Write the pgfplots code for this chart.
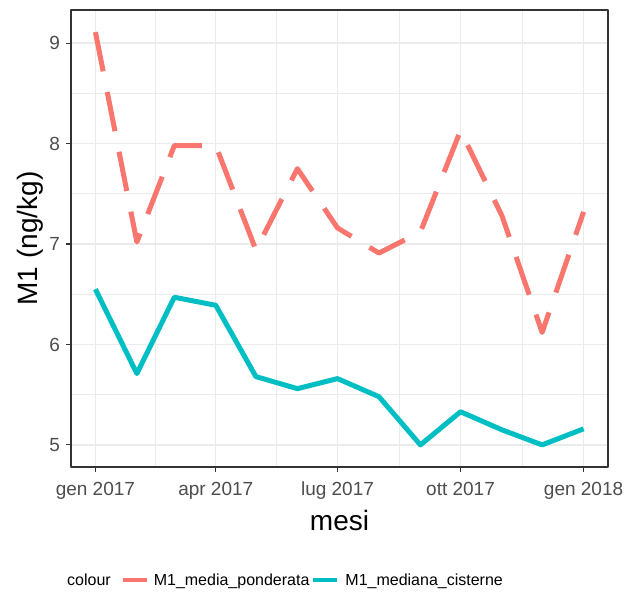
\documentclass[border=0pt]{standalone}
\usepackage{fontspec}
\setmainfont{Liberation Sans}
\usepackage{pgfplots}
\pgfplotsset{compat=1.18}

\definecolor{redline}{HTML}{F8766D}
\definecolor{tealline}{HTML}{00BFC4}
\definecolor{grey92}{HTML}{EBEBEB}
\definecolor{grey30}{HTML}{4D4D4D}
\definecolor{grey20}{HTML}{333333}

% x = days since 1 Jan 2017 (first of each month)
\pgfplotstableread{
day media mediana
0   9.11 6.55
31  7.02 5.71
59  7.98 6.47
90  7.98 6.39
120 6.94 5.68
151 7.75 5.56
181 7.16 5.66
212 6.91 5.48
243 7.12 5.00
273 8.13 5.33
304 7.28 5.15
334 6.12 5.00
365 7.32 5.16
}\datatable

\begin{document}
\begin{tikzpicture}
\path[use as bounding box] (-71bp,-128bp) rectangle (563bp,467bp);
\begin{axis}[
  at={(0,0)}, anchor=south west,
  scale only axis, width=537bp, height=457bp,
  xmin=-18.25, xmax=383.25, ymin=4.78, ymax=9.33,
  xtick={0,90,181,273,365},
  xticklabels={gen 2017,apr 2017,lug 2017,ott 2017,gen 2018},
  ytick={5,6,7,8,9},
  minor xtick={45,135.5,227,319},
  minor ytick={5.5,6.5,7.5,8.5},
  grid=both,
  major grid style={grey92, line width=1.4bp},
  minor grid style={grey92, line width=0.9bp},
  axis line style={grey20, line width=1.2bp},
  tick align=outside, xtick pos=bottom, ytick pos=left,
  major tick length=4.5bp, minor tick length=0bp,
  tick style={grey20, line width=1.1bp},
  /pgf/number format/assume math mode=true,
  ticklabel style={font=\fontsize{19bp}{22bp}\selectfont, text=grey30},
  xticklabel style={anchor=base, yshift=-23.5bp},
  yticklabel style={anchor=east, xshift=-3bp},
  xlabel={mesi}, ylabel={M1 (ng/kg)},
  label style={font=\fontsize{28bp}{32bp}\selectfont, text=black},
  xlabel style={at={(axis description cs:0.5,-0.1379)}, anchor=base},
  ylabel style={at={(axis description cs:-0.0633,0.5)}, anchor=base},
  legend columns=-1,
  legend style={at={(axis description cs:-0.00745,-0.2473)}, anchor=west,
    draw=none, fill=none, inner sep=0pt, column sep=0pt,
    font=\fontsize{16bp}{19bp}\selectfont,
    nodes={inner xsep=0pt, inner ysep=1bp}},
  legend image code/.code={
    \draw[#1, solid, line width=4bp] (0bp,0bp) -- (24bp,0bp);
  },
  line join=round,
]
\addlegendimage{empty legend}
\addlegendentry{colour\hspace*{10bp}}
\addplot[redline, line width=5bp, dash pattern=on 40bp off 21bp] table[x=day, y=media] {\datatable};
\addlegendentry{\hspace*{5bp}M1\_media\_ponderata\hspace*{2bp}}
\addplot[tealline, line width=5bp] table[x=day, y=mediana] {\datatable};
\addlegendentry{\hspace*{6bp}M1\_mediana\_cisterne}
\end{axis}
\end{tikzpicture}
\end{document}
